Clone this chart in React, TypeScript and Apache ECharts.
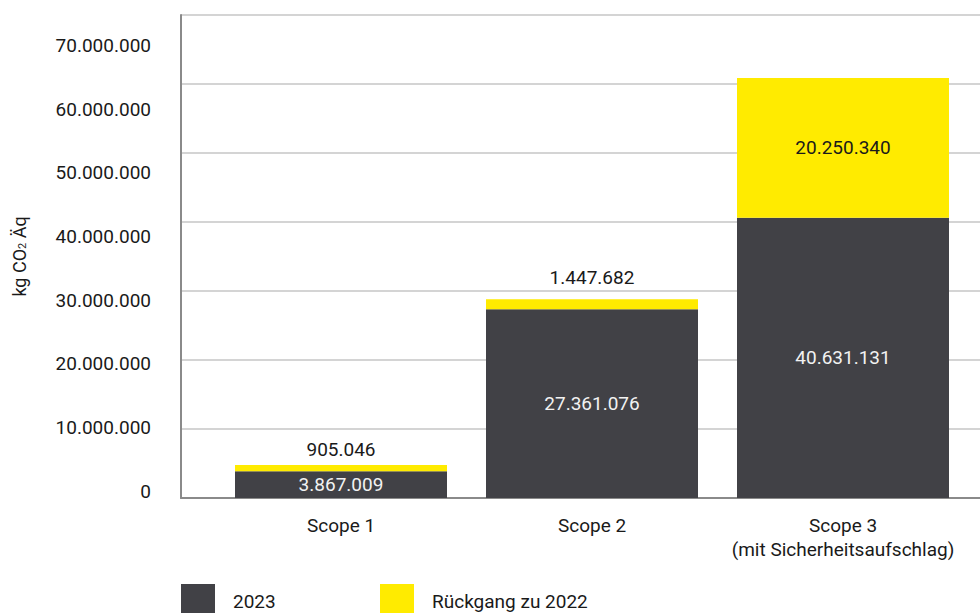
import React, { useEffect, useRef } from "react";
import * as echarts from "echarts";

const categories = ["Scope 1", "Scope 2", "Scope 3\n(mit Sicherheitsaufschlag)"];
const seriesNames = ["2023", "Rückgang zu 2022"];
const values2023 = [3867009, 27361076, 40631131];
const decline = [905046, 1447682, 20250340];
const yTicks = [0, 10000000, 20000000, 30000000, 40000000, 50000000, 60000000, 70000000];

const FONT = "'Liberation Sans Narrow', 'Arial Narrow', 'Roboto', sans-serif";
const FS = 19;
const DARK = "#414146";
const YELLOW = "#FFEB00";
const TEXT = "#1a1a1a";

const fmt = (v: number) =>
  Math.round(v)
    .toString()
    .replace(/\B(?=(\d{3})+(?!\d))/g, ".");

export default function App() {
  const ref = useRef<HTMLDivElement>(null);

  useEffect(() => {
    if (!ref.current) return;
    const chart = echarts.init(ref.current, undefined, { renderer: "svg" });
    const option: any = {
      animation: false,
      backgroundColor: "#ffffff",
      grid: [
        { left: 181, right: 0, top: 15, bottom: 115, outerBoundsMode: "none", containLabel: false },
        { left: 215.5, right: 11.5, top: 15, bottom: 115, outerBoundsMode: "none", containLabel: false },
      ],
      legend: [
        {
          data: [seriesNames[0]],
          left: 181,
          top: 584,
          padding: 0,
          icon: "rect",
          itemWidth: 34,
          itemHeight: 34,
          textStyle: { fontSize: FS, fontFamily: FONT, color: TEXT, padding: [0, 0, 0, 13] },
        },
        {
          data: [seriesNames[1]],
          left: 380,
          top: 584,
          padding: 0,
          icon: "rect",
          itemWidth: 34,
          itemHeight: 34,
          textStyle: { fontSize: FS, fontFamily: FONT, color: TEXT, padding: [0, 0, 0, 13] },
        },
      ],
      xAxis: [
        {
          gridIndex: 0,
          type: "category",
          data: [""],
          axisLine: { show: true, lineStyle: { color: "#8a8a8a", width: 2 } },
          axisTick: { show: false },
          axisLabel: { show: false },
        },
        {
          gridIndex: 1,
          type: "category",
          data: categories,
          axisLine: { show: false },
          axisTick: { show: false },
          axisLabel: {
            margin: 15,
            fontSize: FS,
            lineHeight: 24,
            color: TEXT,
            fontFamily: FONT,
            interval: 0,
          },
        },
      ],
      yAxis: [
        {
          gridIndex: 0,
          type: "value",
          position: "left",
          min: 0,
          max: 70000000,
          interval: 10000000,
          axisLine: { show: true, lineStyle: { color: "#8a8a8a", width: 2 } },
          axisTick: { show: false },
          axisLabel: { show: false },
          splitLine: { show: true, lineStyle: { color: "#c6c6c6", width: 1.5 } },
        },
        {
          gridIndex: 1,
          type: "value",
          min: 0,
          max: 70000000,
          show: false,
          splitLine: { show: false },
        },
        {
          gridIndex: 0,
          type: "value",
          position: "left",
          min: -1100000,
          max: 74830000,
          axisLine: { show: false },
          axisTick: { show: false, customValues: yTicks },
          splitLine: { show: false },
          axisLabel: {
            customValues: yTicks,
            formatter: (v: number) => fmt(v),
            margin: 30,
            fontSize: FS,
            color: TEXT,
            fontFamily: FONT,
          },
          name: "kg CO{s|2} Äq",
          nameLocation: "middle",
          nameGap: 153,
          nameRotate: 90,
          nameTextStyle: {
            fontSize: 18,
            color: TEXT,
            fontFamily: FONT,
            rich: {
              s: { fontSize: 11, lineHeight: 9, verticalAlign: "bottom", fontFamily: FONT, color: TEXT },
            },
          },
        },
      ],
      series: [
        {
          name: seriesNames[0],
          type: "bar",
          stack: "total",
          xAxisIndex: 1,
          yAxisIndex: 1,
          barWidth: 212,
          data: values2023,
          itemStyle: { color: DARK },
          label: {
            show: true,
            position: "inside",
            color: "#f2f2f2",
            fontSize: FS,
            fontFamily: FONT,
            formatter: (p: any) => fmt(p.value),
          },
        },
        {
          name: seriesNames[1],
          type: "bar",
          stack: "total",
          xAxisIndex: 1,
          yAxisIndex: 1,
          barWidth: 212,
          data: decline.map((v, i) => ({
            value: v,
            label:
              i < 2
                ? { position: "top", distance: i === 0 ? 6 : 12 }
                : { position: "inside" },
          })),
          itemStyle: { color: YELLOW },
          label: {
            show: true,
            color: TEXT,
            fontSize: FS,
            fontFamily: FONT,
            formatter: (p: any) => fmt(p.value),
          },
        },
      ],
    };
    chart.setOption(option);
    return () => chart.dispose();
  }, []);

  return (
    <div
      ref={ref}
      style={{ position: "fixed", left: 0, top: 0, width: 980, height: 613 }}
    />
  );
}
